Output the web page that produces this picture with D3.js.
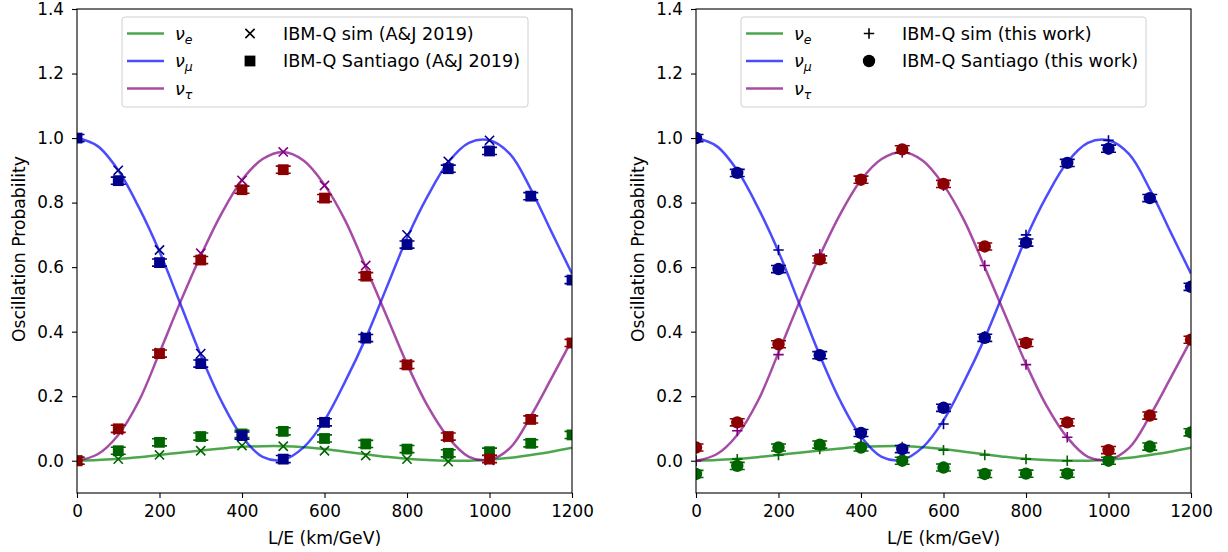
<!DOCTYPE html>
<html><head><meta charset="utf-8">
<script src="https://cdn.jsdelivr.net/npm/d3@7"></script>
<style>
body{margin:0;background:#fff}
text{font-family:"DejaVu Sans",sans-serif;fill:#000}
</style>
</head><body>
<svg id="c" width="1228" height="552"></svg>
<script>
// ---- theory curves (sampled every 50 km/GeV) ----
const curveL   = [0,50,100,150,200,250,300,350,400,450,500,550,600,650,700,750,800,850,900,950,1000,1050,1100,1150,1200];
const curveE   = [0.000,0.002,0.006,0.011,0.018,0.025,0.032,0.038,0.043,0.045,0.045,0.042,0.036,0.028,0.020,0.012,0.006,0.002,0.000,0.000,0.003,0.009,0.018,0.028,0.040];
const curveMu  = [1.000,0.975,0.900,0.785,0.648,0.488,0.327,0.185,0.075,0.012,0.003,0.042,0.125,0.245,0.380,0.535,0.690,0.820,0.925,0.985,0.993,0.950,0.842,0.710,0.580];
const curveTau = [0.000,0.020,0.080,0.185,0.335,0.490,0.635,0.765,0.870,0.935,0.957,0.930,0.855,0.745,0.600,0.450,0.300,0.170,0.072,0.012,0.003,0.040,0.138,0.255,0.375];

// ---- measurement points ----
const ptL  = [0,100,200,300,400,500,600,700,800,900,1000,1100,1200];
const simL = [0,100,200,300,400,500,600,700,800,900,1000];

// A&J 2019 (left panel)
const ajSimE   = [0.000,0.005,0.018,0.031,0.047,0.045,0.031,0.016,0.005,-0.003,0.001];
const ajSimMu  = [1.000,0.900,0.653,0.332,0.075,0.005,0.118,0.385,0.700,0.928,0.993];
const ajSimTau = [0.000,0.095,0.335,0.643,0.869,0.957,0.853,0.605,0.300,0.072,0.002];
const ajDevE   = [0.000,0.031,0.057,0.075,0.083,0.091,0.069,0.052,0.036,0.023,0.028,0.054,0.080];
const ajDevMu  = [1.000,0.868,0.614,0.301,0.078,0.005,0.119,0.380,0.670,0.905,0.960,0.820,0.560];
const ajDevTau = [0.000,0.099,0.332,0.622,0.840,0.902,0.814,0.572,0.297,0.075,0.005,0.128,0.365];

// this work (right panel)
const twSimE   = [0.000,0.005,0.018,0.036,0.045,0.043,0.033,0.018,0.005,0.000,0.001];
const twSimMu  = [1.000,0.895,0.653,0.330,0.075,0.003,0.114,0.385,0.700,0.925,0.993];
const twSimTau = [0.000,0.093,0.329,0.640,0.870,0.955,0.852,0.605,0.298,0.073,0.002];
const twDevE   = [-0.041,-0.016,0.041,0.050,0.041,0.000,-0.021,-0.041,-0.040,-0.040,0.000,0.044,0.088];
const twDevMu  = [1.000,0.892,0.594,0.327,0.086,0.036,0.164,0.381,0.676,0.923,0.967,0.814,0.539];
const twDevTau = [0.041,0.119,0.361,0.624,0.871,0.965,0.858,0.664,0.365,0.119,0.033,0.140,0.375];

const errSize = 0.011;

const xTicks = [0,200,400,600,800,1000,1200];
const yTicks = [0.0,0.2,0.4,0.6,0.8,1.0,1.2,1.4];
const flavourNames = [["ν","e"],["ν","μ"],["ν","τ"]];

// ---- drawing ----
const svg = d3.select("#c");
const plotTop = 9, plotBottom = 493;
const curveCol = ["#008000","#0000ff","#800080"];
const simCol   = ["#006400","#00008b","#800080"];
const devCol   = ["#006400","#00008b","#8b0000"];

function drawMarker(g, type, x, y, col, s) {
  if (type === "x") {
    const d = 4.6*s;
    g.append("path").attr("d", `M${x-d},${y-d}L${x+d},${y+d}M${x-d},${y+d}L${x+d},${y-d}`)
      .attr("stroke", col).attr("stroke-width", 1.6).attr("fill","none");
  } else if (type === "+") {
    const d = 5.2*s;
    g.append("path").attr("d", `M${x-d},${y}L${x+d},${y}M${x},${y-d}L${x},${y+d}`)
      .attr("stroke", col).attr("stroke-width", 1.6).attr("fill","none");
  } else if (type === "s") {
    const d = 5.4*s;
    g.append("rect").attr("x", x-d).attr("y", y-d).attr("width", 2*d).attr("height", 2*d).attr("fill", col);
  } else {
    g.append("circle").attr("cx", x).attr("cy", y).attr("r", 6.2*s).attr("fill", col);
  }
}

function panel(opt) {
  const x = d3.scaleLinear().domain([0,1200]).range([opt.left, opt.left+495]);
  const y = d3.scaleLinear().domain([-0.1,1.4]).range([plotBottom, plotTop]);
  const g = svg.append("g");

  // axes
  const ax = g.append("g").attr("transform", `translate(0,${plotBottom})`)
    .call(d3.axisBottom(x).tickValues(xTicks).tickFormat(d3.format("d")).tickSize(5).tickPadding(7).tickSizeOuter(0));
  const ay = g.append("g").attr("transform", `translate(${opt.left},0)`)
    .call(d3.axisLeft(y).tickValues(yTicks).tickFormat(d3.format(".1f")).tickSize(5).tickPadding(8).tickSizeOuter(0));
  [ax, ay].forEach(a => {
    a.select(".domain").remove();
    a.selectAll("line").attr("stroke","#000").attr("stroke-width",1.1);
    a.selectAll("text").attr("font-size","16.8px").attr("font-family","DejaVu Sans").attr("fill","#000");
  });

  const clip = "clip" + opt.left;
  g.append("clipPath").attr("id", clip).append("rect")
    .attr("x", opt.left).attr("y", plotTop).attr("width", 495).attr("height", plotBottom-plotTop);
  const plot = g.append("g").attr("clip-path", `url(#${clip})`);

  // curves
  const curves = [curveE, curveMu, curveTau];
  curves.forEach((c, i) => {
    const line = d3.line().x((d,j) => x(curveL[j])).y(d => y(d)).curve(d3.curveCatmullRom.alpha(0.5));
    plot.append("path").datum(c).attr("d", line).attr("fill","none")
      .attr("stroke", curveCol[i]).attr("stroke-opacity", 0.7).attr("stroke-width", 2.5);
  });

  // sim markers
  opt.sim.forEach((s, i) => {
    s.forEach((v, j) => drawMarker(plot, opt.simType, x(simL[j]), y(v), simCol[i], 1));
  });
  // device markers with error bars
  opt.dev.forEach((s, i) => {
    s.forEach((v, j) => {
      const cx = x(ptL[j]);
      const y1 = y(v + errSize), y2 = y(v - errSize);
      plot.append("path").attr("d", `M${cx},${y1}L${cx},${y2}M${cx-7.5},${y1}L${cx+7.5},${y1}M${cx-7.5},${y2}L${cx+7.5},${y2}`)
        .attr("stroke", devCol[i]).attr("stroke-width", 1.6).attr("fill","none");
      drawMarker(plot, opt.devType, cx, y(v), devCol[i], 1);
    });
  });

  // frame
  g.append("rect").attr("x", opt.left).attr("y", plotTop).attr("width", 495).attr("height", plotBottom-plotTop)
    .attr("fill","none").attr("stroke","#000").attr("stroke-width",1.1);

  // axis labels
  g.append("text").attr("x", opt.left+247.5).attr("y", 544).attr("text-anchor","middle")
    .attr("font-size","17.2px").text("L/E (km/GeV)");
  g.append("text").attr("transform", `translate(${opt.left-52},249) rotate(-90)`).attr("text-anchor","middle")
    .attr("font-size","17.2px").text("Oscillation Probability");

  // legend
  const lx = opt.left + 45, ly = 17;
  const lg = g.append("g");
  lg.append("rect").attr("x", lx).attr("y", ly).attr("width", opt.legW).attr("height", 90).attr("rx", 3)
    .attr("fill","#fff").attr("fill-opacity",0.8).attr("stroke","#d0d0d0").attr("stroke-width",1);
  const rows = [33.5, 61, 88.5];
  flavourNames.forEach((nm, i) => {
    lg.append("line").attr("x1", lx+5).attr("x2", lx+42).attr("y1", rows[i]).attr("y2", rows[i])
      .attr("stroke", curveCol[i]).attr("stroke-opacity",0.7).attr("stroke-width",2.5);
    const t = lg.append("text").attr("x", lx+53).attr("y", rows[i]+6).attr("font-size","17.5px");
    t.append("tspan").attr("font-style","italic").text(nm[0]);
    t.append("tspan").attr("font-style","italic").attr("font-size","12.5px").attr("dy", 4).text(nm[1]);
  });
  drawMarker(lg, opt.simType, lx+128, rows[0], "#000", 1);
  drawMarker(lg, opt.devType, lx+128, rows[1], "#000", 1);
  lg.append("text").attr("x", lx+161).attr("y", rows[0]+6).attr("font-size","17.6px").text(opt.simLabel);
  lg.append("text").attr("x", lx+161).attr("y", rows[1]+6).attr("font-size","17.6px").text(opt.devLabel);
}

panel({left: 77, sim: [ajSimE, ajSimMu, ajSimTau], dev: [ajDevE, ajDevMu, ajDevTau],
       simType: "x", devType: "s", legW: 406,
       simLabel: "IBM-Q sim (A&J 2019)", devLabel: "IBM-Q Santiago (A&J 2019)"});
panel({left: 696, sim: [twSimE, twSimMu, twSimTau], dev: [twDevE, twDevMu, twDevTau],
       simType: "+", devType: "o", legW: 405,
       simLabel: "IBM-Q sim (this work)", devLabel: "IBM-Q Santiago (this work)"});
</script>
</body></html>
